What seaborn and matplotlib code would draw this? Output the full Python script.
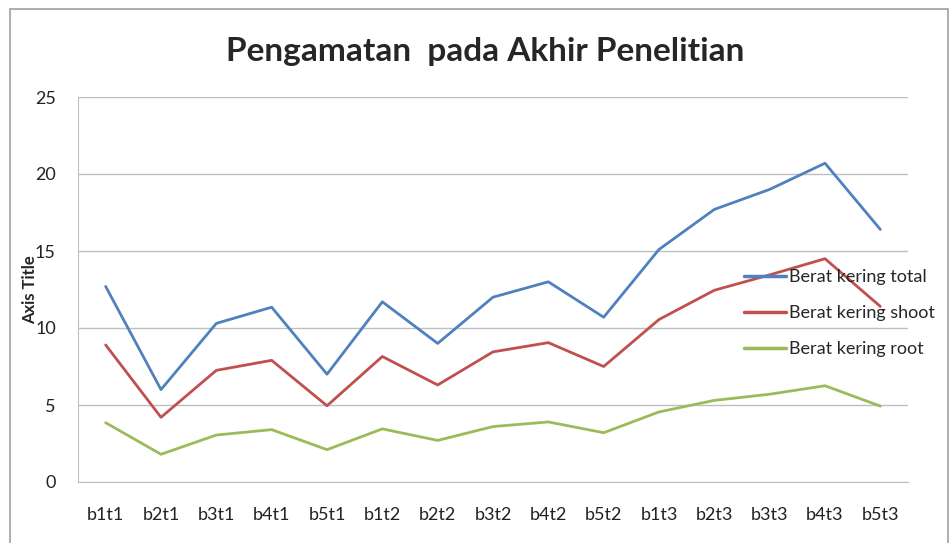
import matplotlib
matplotlib.use("Agg")
import matplotlib.pyplot as plt
import seaborn as sns
import pandas as pd
from matplotlib.patches import Rectangle

categories = ["b1t1", "b2t1", "b3t1", "b4t1", "b5t1", "b1t2", "b2t2", "b3t2",
              "b4t2", "b5t2", "b1t3", "b2t3", "b3t3", "b4t3", "b5t3"]
total = [12.7, 6.0, 10.3, 11.35, 7.0, 11.7, 9.0, 12.0, 13.0, 10.7, 15.1, 17.7, 19.0, 20.7, 16.4]
shoot = [8.9, 4.2, 7.25, 7.9, 4.95, 8.15, 6.3, 8.45, 9.05, 7.5, 10.55, 12.45, 13.45, 14.5, 11.4]
root = [3.85, 1.8, 3.05, 3.4, 2.1, 3.45, 2.7, 3.6, 3.9, 3.2, 4.55, 5.3, 5.7, 6.25, 4.93]
series_names = ["Berat kering total", "Berat kering shoot", "Berat kering root"]
colors = ["#4F81BD", "#C0504D", "#9BBB59"]

df = pd.concat([
    pd.DataFrame({"cat": categories, "val": vals, "series": name})
    for name, vals in zip(series_names, [total, shoot, root])
])

sns.set_style("white")
plt.rcParams["font.family"] = ["Lato", "DejaVu Sans"]

fig = plt.figure(figsize=(9.53, 5.43), dpi=100)
W, H = 953, 543
ax = fig.add_axes([78 / W, 1 - 482 / H, (908 - 78) / W, (482 - 97) / H])

sns.lineplot(data=df, x="cat", y="val", hue="series", palette=colors,
             sort=False, linewidth=2.0, ax=ax, legend=True)

ax.set_xlim(-0.5, len(categories) - 0.5)
ax.set_ylim(0, 25)
ax.set_yticks([0, 5, 10, 15, 20, 25])
ax.yaxis.grid(True, color="#BFBFBF", linewidth=1.0)
ax.xaxis.grid(False)
ax.set_axisbelow(True)
for s in ["top", "right"]:
    ax.spines[s].set_visible(False)
ax.spines["left"].set_color("#BFBFBF")
ax.spines["bottom"].set_color("#BFBFBF")
ax.tick_params(axis="both", length=0, labelsize=13, colors="#222222")
ax.tick_params(axis="x", pad=18)
ax.tick_params(axis="y", pad=16)
ax.set_xlabel("")
ax.set_ylabel("Axis Title", fontsize=12, fontweight="bold")
ax.yaxis.set_label_coords((38 - 78) / (908 - 78), 0.5)

leg = ax.legend(loc="upper left", bbox_to_anchor=(737 / W, 1 - 262 / H),
                bbox_transform=fig.transFigure, frameon=False, fontsize=13,
                handlelength=2.3, labelspacing=1.1, handletextpad=0.2,
                borderaxespad=0)
for line in leg.get_lines():
    line.set_linewidth(2.5)

fig.text(485 / W, 1 - 51 / H, "Pengamatan  pada Akhir Penelitian",
         ha="center", va="center", fontsize=24, fontweight="bold")

fig.patches.append(Rectangle((10 / W, -0.02), (948 - 10) / W, 1 - 9 / H + 0.02,
                             transform=fig.transFigure, fill=False,
                             edgecolor="#A0A0A0", linewidth=1.2))

fig.savefig("out.png", dpi=100)
